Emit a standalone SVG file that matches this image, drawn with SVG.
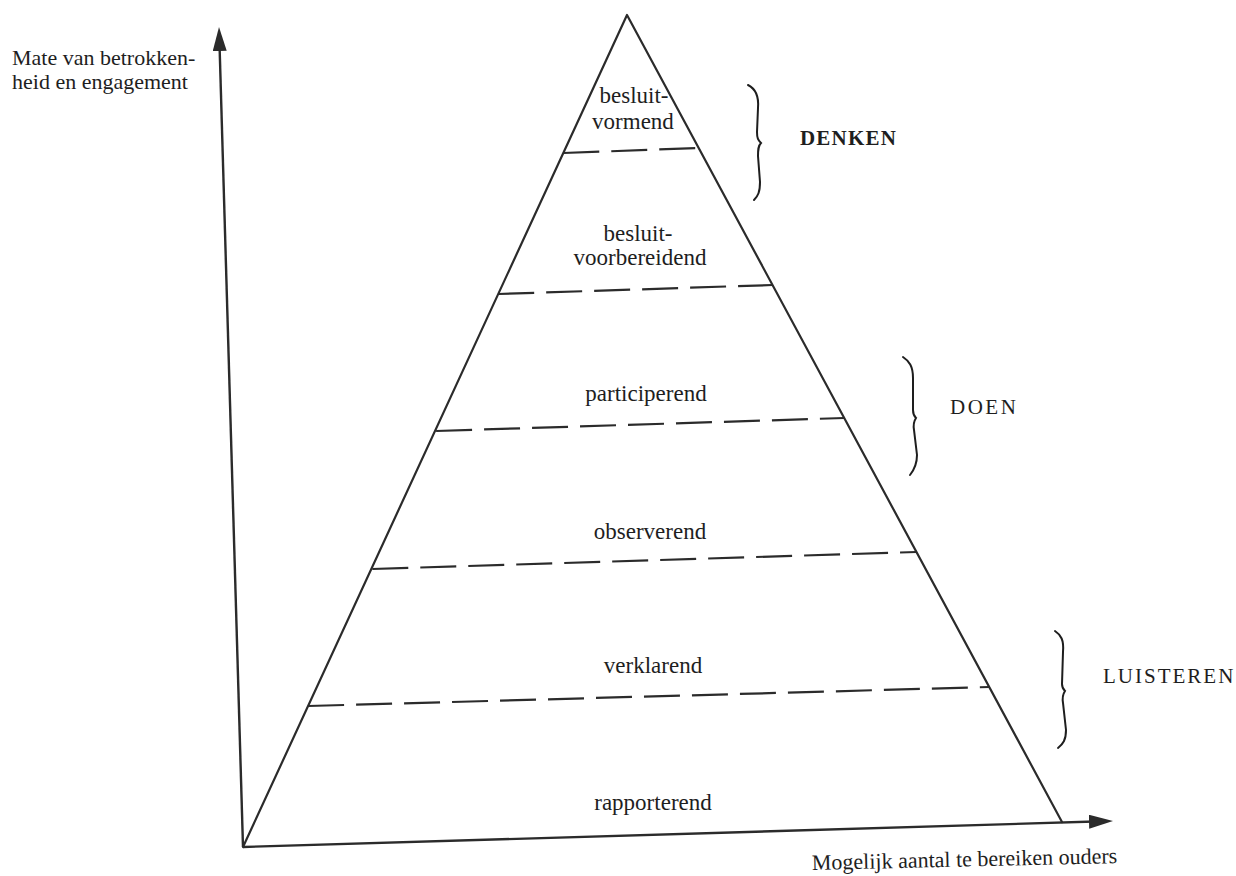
<svg xmlns="http://www.w3.org/2000/svg" width="1236" height="876" viewBox="0 0 1236 876">
<style>
.ln{fill:none;stroke:#2b2b2b;stroke-width:2.2;stroke-linecap:round;stroke-linejoin:round}
.ax{fill:none;stroke:#2b2b2b;stroke-width:2.4}
.dash{fill:none;stroke:#2b2b2b;stroke-width:2.2;stroke-dasharray:36 12}
.br{fill:none;stroke:#1e1e1e;stroke-width:2;stroke-linecap:round}
text{font-family:"Liberation Serif","Times New Roman",serif;fill:#1e1e1e;font-size:22px}
.lbl{text-anchor:middle;font-size:23px}
.hd{font-size:21px}
</style>
<defs>
<marker id="arr" viewBox="0 0 24 14" refX="14" refY="7" markerWidth="24" markerHeight="14" markerUnits="userSpaceOnUse" orient="auto">
<path d="M0,0 L24,7 L0,14 z" fill="#2b2b2b"/>
</marker>
</defs>
<rect width="1236" height="876" fill="#ffffff"/>
<g id="connectors">
<path id="y-axis" class="ax" d="M243,847 L219.3,37" marker-end="url(#arr)"/>
<path id="x-axis" class="ax" d="M243,847 L1103,821.3" marker-end="url(#arr)"/>
<path id="pyramid" class="ln" d="M243,847 L627,15 L1062,822"/>
<path class="dash" d="M563.3,153 L698.7,148"/>
<path class="dash" d="M498.2,294 L772.5,285"/>
<path class="dash" d="M436.1,431 L844.2,418"/>
<path class="dash" d="M372.3,569 L916.4,552"/>
<path class="dash" d="M308.1,706 L989.2,687"/>
</g>
<g id="axis-labels">
<text x="12" y="65">Mate van betrokken-</text>
<text x="12" y="89">heid en engagement</text>
<text x="812" y="870" transform="rotate(-1.3 812 870)">Mogelijk aantal te bereiken ouders</text>
</g>
<g id="level-besluitvormend"><text class="lbl" x="634" y="103">besluit-</text><text class="lbl" x="633" y="129">vormend</text></g>
<g id="level-besluitvoorbereidend"><text class="lbl" x="638" y="241">besluit-</text><text class="lbl" x="640" y="265">voorbereidend</text></g>
<g id="level-participerend"><text class="lbl" x="646" y="401">participerend</text></g>
<g id="level-observerend"><text class="lbl" x="650" y="539">observerend</text></g>
<g id="level-verklarend"><text class="lbl" x="653" y="673">verklarend</text></g>
<g id="level-rapporterend"><text class="lbl" x="653" y="810">rapporterend</text></g>
<g id="group-denken">
<path class="br" d="M748,85 C756,89 759,96 758,108 L757,132 C757,138 758,140 761,143 C758,146 758,150 758,156 L760,182 C760,192 758,196 754,200"/>
<text class="hd" x="800" y="145" font-weight="bold" letter-spacing="1.2">DENKEN</text>
</g>
<g id="group-doen">
<path class="br" d="M903,357 C909,361 913,366 913,378 L913,410 C913,414 914,416 916,418 C914,421 913,424 914,430 L917,455 C917,465 914,470 910,475"/>
<text class="hd" x="950" y="414" letter-spacing="2.5">DOEN</text>
</g>
<g id="group-luisteren">
<path class="br" d="M1055,631 C1061,635 1064,640 1063,652 L1062,684 C1062,688 1063,689 1065,691 C1063,694 1062,697 1063,703 L1066,730 C1066,740 1063,744 1058,748"/>
<text class="hd" x="1103" y="683" letter-spacing="2">LUISTEREN</text>
</g>
</svg>
